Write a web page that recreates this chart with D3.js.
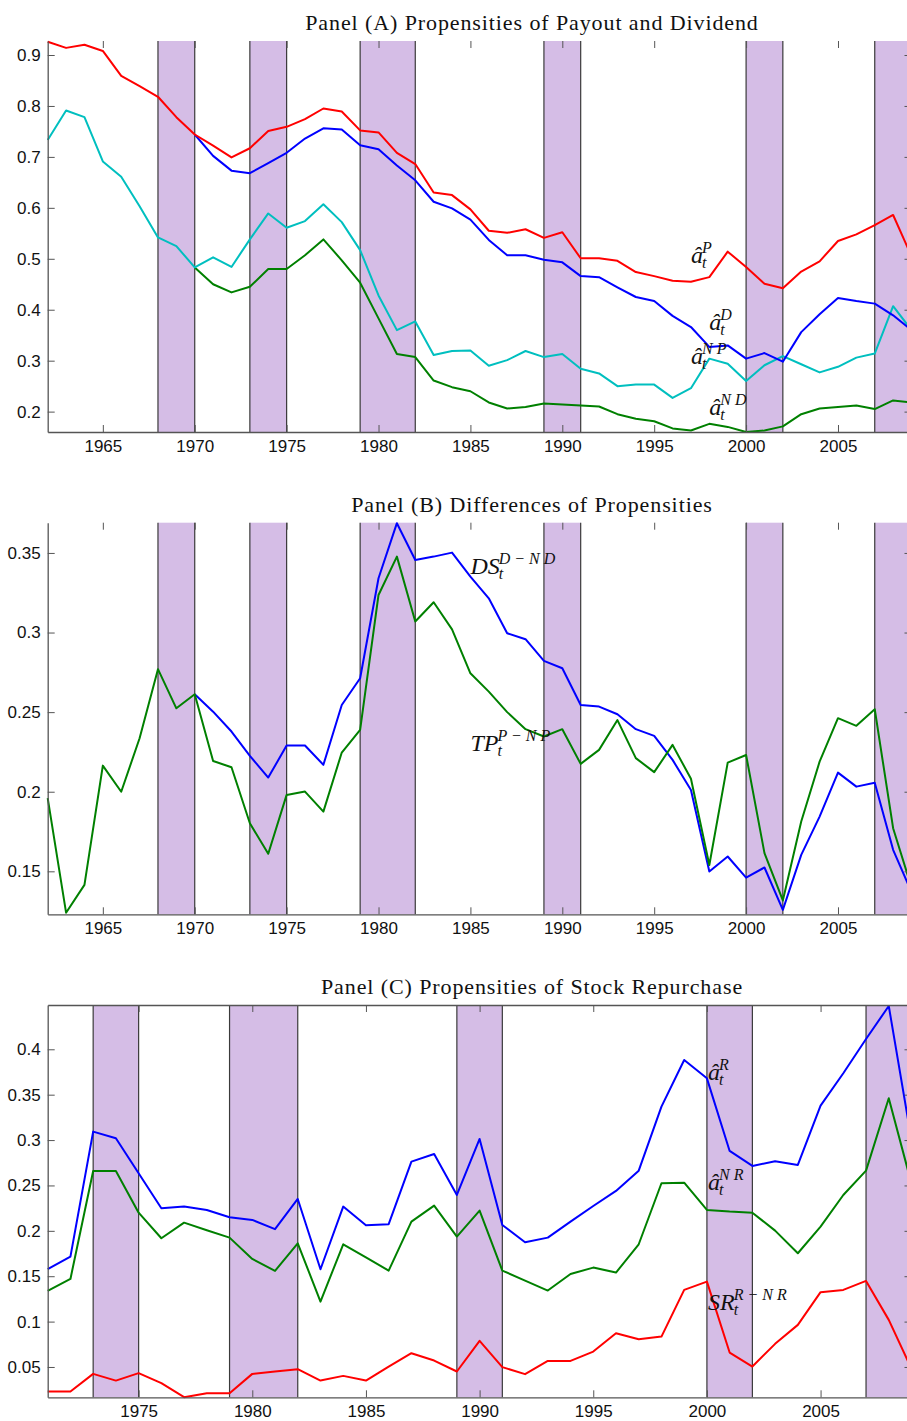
<!DOCTYPE html>
<html>
<head>
<meta charset="utf-8">
<script src="https://cdn.jsdelivr.net/npm/d3@7"></script>
<style>
  body { margin: 0; background: #fff; }
  svg { display: block; }
  .tick text { font-family: "Liberation Sans", Arial, sans-serif; font-size: 17px; fill: #111; }
  .title { font-family: "Liberation Serif", serif; font-size: 22px; letter-spacing: 0.9px; fill: #111; }
  .math { font-family: "Liberation Serif", serif; font-style: italic; fill: #111; }
</style>
</head>
<body>
<svg id="chart"></svg>
<script>
// ---- data ----
const yearsLong = d3.range(1962, 2010);   // panels A and B
const yearsShort = d3.range(1971, 2010);  // panel C

const recessions = [[1968, 1970], [1973, 1975], [1979, 1982], [1989, 1991], [2000, 2002], [2007, 2009]];

// Panel A: propensities of payout / dividend
const propP = [0.926, 0.914, 0.920, 0.908, 0.859, 0.839, 0.818, 0.778, 0.744, 0.722,
  0.699, 0.717, 0.751, 0.759, 0.774, 0.795, 0.789, 0.752, 0.748, 0.708,
  0.686, 0.630, 0.625, 0.597, 0.555, 0.551, 0.558, 0.541, 0.552, 0.501,
  0.501, 0.496, 0.474, 0.466, 0.457, 0.455, 0.464, 0.514, 0.484, 0.451,
  0.442, 0.475, 0.495, 0.535, 0.548, 0.566, 0.586, 0.505];
const propD = [null, null, null, null, null, null, null, null,
  0.744, 0.702, 0.673, 0.668, 0.688, 0.708, 0.736, 0.756, 0.754, 0.723,
  0.715, 0.683, 0.654, 0.612, 0.599, 0.577, 0.537, 0.507, 0.507, 0.498,
  0.493, 0.466, 0.464, 0.444, 0.425, 0.417, 0.388, 0.366, 0.327, 0.330,
  0.304, 0.315, 0.298, 0.356, 0.391, 0.423, 0.417, 0.412, 0.389, 0.360];
const propNP = [0.733, 0.791, 0.778, 0.691, 0.661, 0.603, 0.542, 0.525, 0.483, 0.503,
  0.484, 0.538, 0.589, 0.561, 0.574, 0.607, 0.572, 0.517, 0.428, 0.360,
  0.377, 0.311, 0.319, 0.320, 0.290, 0.301, 0.319, 0.307, 0.313, 0.284,
  0.275, 0.250, 0.253, 0.253, 0.227, 0.246, 0.304, 0.294, 0.260, 0.291,
  0.309, 0.293, 0.277, 0.288, 0.306, 0.314, 0.407, 0.360];
const propND = [null, null, null, null, null, null, null, null,
  0.483, 0.450, 0.434, 0.445, 0.480, 0.480, 0.507, 0.538, 0.497, 0.453,
  0.383, 0.313, 0.307, 0.261, 0.248, 0.240, 0.218, 0.206, 0.209, 0.216,
  0.214, 0.212, 0.210, 0.195, 0.186, 0.181, 0.167, 0.163, 0.176, 0.170,
  0.160, 0.163, 0.171, 0.195, 0.206, 0.209, 0.212, 0.205, 0.222, 0.218];

// Panel B: differences of propensities
const diffTP = [0.196, 0.124, 0.1415, 0.2164, 0.200, 0.2336, 0.277, 0.2524, 0.2612, 0.2193,
  0.2154, 0.1802, 0.161, 0.198, 0.2001, 0.1875, 0.2246, 0.2388, 0.3236, 0.3477,
  0.3069, 0.319, 0.302, 0.2744, 0.2629, 0.250, 0.2393, 0.2347, 0.2393, 0.2175,
  0.2263, 0.245, 0.2211, 0.2123, 0.2294, 0.2081, 0.154, 0.2183, 0.2231, 0.1614,
  0.1317, 0.1813, 0.2189, 0.2462, 0.2414, 0.2518, 0.1771, 0.140];
const diffDS = [null, null, null, null, null, null, null, null,
  0.2612, 0.2503, 0.2378, 0.2225, 0.2089, 0.229, 0.229, 0.2169, 0.2545, 0.2713,
  0.3341, 0.3687, 0.3456, 0.3477, 0.3502, 0.3351, 0.3215, 0.2996, 0.2958, 0.2822,
  0.2776, 0.2545, 0.2535, 0.2487, 0.2393, 0.2351, 0.220, 0.2011, 0.1499, 0.1593,
  0.146, 0.1524, 0.1258, 0.1603, 0.1844, 0.212, 0.2032, 0.2057, 0.1635, 0.137];

// Panel C: stock repurchase
const propR = [0.1577, 0.1716, 0.3093, 0.302, 0.2634, 0.2249, 0.2267, 0.223, 0.215, 0.212,
  0.2018, 0.2351, 0.1577, 0.2267, 0.2062, 0.2073, 0.2762, 0.2847, 0.2395, 0.3012,
  0.2065, 0.1874, 0.1925, 0.2101, 0.2274, 0.244, 0.2663, 0.3368, 0.3882, 0.368,
  0.288, 0.2715, 0.2766, 0.2726, 0.3379, 0.3736, 0.4113, 0.4477, 0.300];
const propNR = [0.1338, 0.147, 0.266, 0.266, 0.220, 0.1918, 0.209, 0.2007, 0.1925, 0.169,
  0.1558, 0.1863, 0.122, 0.1852, 0.1707, 0.1562, 0.2101, 0.2278, 0.1937, 0.2223,
  0.1562, 0.1452, 0.1342, 0.1525, 0.1595, 0.154, 0.1852, 0.2524, 0.2531, 0.223,
  0.2212, 0.220, 0.2002, 0.1753, 0.2047, 0.2395, 0.2663, 0.346, 0.252];
const diffSR = [0.0229, 0.0229, 0.0424, 0.035, 0.0432, 0.0322, 0.0167, 0.0211, 0.0211, 0.0424,
  0.045, 0.0476, 0.035, 0.0402, 0.035, 0.0505, 0.0652, 0.0571, 0.045, 0.0788,
  0.0498, 0.0421, 0.0567, 0.0567, 0.067, 0.0872, 0.0806, 0.0835, 0.1349, 0.1441,
  0.0659, 0.0505, 0.0755, 0.0964, 0.1324, 0.1349, 0.1448, 0.1019, 0.048];

const xTicksAB = [1965, 1970, 1975, 1980, 1985, 1990, 1995, 2000, 2005];
const xTicksC = [1975, 1980, 1985, 1990, 1995, 2000, 2005];
const yTicksA = [0.2, 0.3, 0.4, 0.5, 0.6, 0.7, 0.8, 0.9];
const yTicksB = [0.15, 0.2, 0.25, 0.3, 0.35];
const yTicksC = [0.05, 0.1, 0.15, 0.2, 0.25, 0.3, 0.35, 0.4];

const RED = '#ff0000', BLUE = '#0000ff', CYAN = '#00bfbf', GREEN = '#008000';

// ---- drawing ----
const width = 907, height = 1421;
const left = 47.7, right = 911.5;

const svg = d3.select('#chart').attr('width', width).attr('height', height);

function drawPanel(p) {
  const g = svg.append('g');
  const x = d3.scaleLinear().domain(p.xDomain).range([left, right]);
  const y = d3.scaleLinear().domain(p.yDomain).range([p.bottom, p.top]);

  // recession bands
  const bands = recessions.filter(r => r[1] > p.xDomain[0]);
  g.selectAll('.band').data(bands).enter().append('rect')
    .attr('x', d => x(d[0]))
    .attr('y', p.top)
    .attr('width', d => x(d[1]) - x(d[0]))
    .attr('height', p.bottom - p.top)
    .attr('fill', '#d5bde6');

  const edges = bands.flatMap(d => d);
  g.selectAll('.edge').data(edges).enter().append('line')
    .attr('x1', d => x(d)).attr('x2', d => x(d))
    .attr('y1', p.top).attr('y2', p.bottom)
    .attr('stroke', '#3a3a3a').attr('stroke-width', 1.2);

  const line = d3.line()
    .defined(d => d[1] != null)
    .x(d => x(d[0]))
    .y(d => y(d[1]));

  p.series.forEach(s => {
    g.append('path')
      .datum(p.years.map((yr, i) => [yr, s.values[i]]))
      .attr('d', line)
      .attr('fill', 'none')
      .attr('stroke', s.color)
      .attr('stroke-width', 2)
      .attr('stroke-linejoin', 'round');
  });

  // axes (ticks point inward, like MATLAB)
  const fmt = d => String(+d.toFixed(2));
  g.append('g')
    .attr('transform', `translate(${left},0)`)
    .call(d3.axisLeft(y).tickValues(p.yTicks).tickFormat(fmt).tickSize(-7).tickSizeOuter(0).tickPadding(7));
  g.append('g')
    .attr('transform', `translate(0,${p.bottom})`)
    .call(d3.axisBottom(x).tickValues(p.xTicks).tickFormat(d3.format('d')).tickSize(-7).tickSizeOuter(0).tickPadding(8));
  const topAx = g.append('g')
    .attr('transform', `translate(0,${p.top})`)
    .call(d3.axisTop(x).tickValues(p.xTicks).tickFormat('').tickSize(-7).tickSizeOuter(0));
  if (!p.topLine) topAx.select('.domain').remove();
  g.append('g')
    .attr('transform', `translate(${right},0)`)
    .call(d3.axisRight(y).tickValues(p.yTicks).tickFormat('').tickSize(-7).tickSizeOuter(0));

  g.selectAll('.domain').attr('stroke', '#555').attr('stroke-width', 1.3);
  g.selectAll('.tick line').attr('stroke', '#555');

  g.append('text')
    .attr('class', 'title')
    .attr('x', 532)
    .attr('y', p.top - 11)
    .attr('text-anchor', 'middle')
    .text(p.title);

  p.labels.forEach(l => mathLabel(g, x(l.year), y(l.value), l.main, l.sup));
}

function mathLabel(g, lx, ly, main, sup) {
  const t = g.append('text').attr('class', 'math')
    .attr('x', lx).attr('y', ly).style('font-size', '24px').text(main);
  const w = t.node().getComputedTextLength();
  g.append('text').attr('class', 'math')
    .attr('x', lx + w - 1).attr('y', ly + 5).style('font-size', '16px').text('t');
  g.append('text').attr('class', 'math')
    .attr('x', lx + w - 1).attr('y', ly - 10).style('font-size', '16px').text(sup);
}

drawPanel({
  top: 41, bottom: 432,
  xDomain: [1962, 2009], yDomain: [0.16, 0.9275],
  years: yearsLong, xTicks: xTicksAB, yTicks: yTicksA,
  title: 'Panel (A) Propensities of Payout and Dividend',
  series: [
    { values: propND, color: GREEN },
    { values: propNP, color: CYAN },
    { values: propD, color: BLUE },
    { values: propP, color: RED }
  ],
  labels: [
    { year: 1997.0, value: 0.491, main: 'â', sup: 'P' },
    { year: 1998.0, value: 0.360, main: 'â', sup: 'D' },
    { year: 1997.0, value: 0.294, main: 'â', sup: 'N P' },
    { year: 1998.0, value: 0.193, main: 'â', sup: 'N D' }
  ]
});

drawPanel({
  top: 522.7, bottom: 914.3,
  xDomain: [1962, 2009], yDomain: [0.123, 0.369],
  years: yearsLong, xTicks: xTicksAB, yTicks: yTicksB,
  title: 'Panel (B) Differences of Propensities',
  series: [
    { values: diffDS, color: BLUE },
    { values: diffTP, color: GREEN }
  ],
  labels: [
    { year: 1985.0, value: 0.3366, main: 'DS', sup: 'D − N D' },
    { year: 1985.0, value: 0.2258, main: 'TP', sup: 'P − N P' }
  ]
});

drawPanel({
  top: 1005, bottom: 1397.3,
  xDomain: [1971, 2009], yDomain: [0.0166, 0.4488],
  years: yearsShort, xTicks: xTicksC, yTicks: yTicksC,
  title: 'Panel (C) Propensities of Stock Repurchase',
  topLine: true,
  series: [
    { values: diffSR, color: RED },
    { values: propNR, color: GREEN },
    { values: propR, color: BLUE }
  ],
  labels: [
    { year: 2000.05, value: 0.366, main: 'â', sup: 'R' },
    { year: 2000.05, value: 0.245, main: 'â', sup: 'N R' },
    { year: 2000.05, value: 0.113, main: 'SR', sup: 'R − N R' }
  ]
});
</script>
</body>
</html>
